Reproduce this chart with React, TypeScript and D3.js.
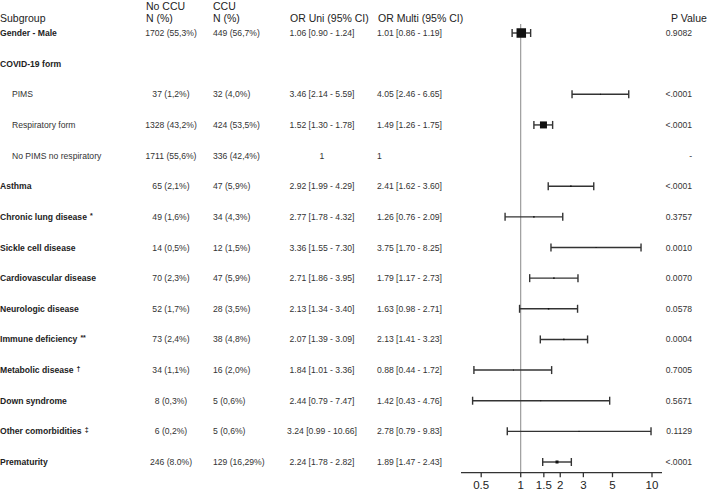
import React from "react";
import * as d3 from "d3";

const subgroups = [
  "Gender - Male", "COVID-19 form", "PIMS", "Respiratory form", "No PIMS no respiratory",
  "Asthma", "Chronic lung disease", "Sickle cell disease", "Cardiovascular disease",
  "Neurologic disease", "Immune deficiency", "Metabolic disease", "Down syndrome",
  "Other comorbidities", "Prematurity",
];
const superscripts = ["", "", "", "", "", "", "*", "", "", "", "**", "†", "", "‡", ""];
const isSubRow = [false, false, true, true, true, false, false, false, false, false, false, false, false, false, false];
const noCcu = ["1702 (55,3%)", "", "37 (1,2%)", "1328 (43,2%)", "1711 (55,6%)", "65 (2,1%)", "49 (1,6%)", "14 (0,5%)", "70 (2,3%)", "52 (1,7%)", "73 (2,4%)", "34 (1,1%)", "8 (0,3%)", "6 (0,2%)", "246 (8.0%)"];
const ccu = ["449 (56,7%)", "", "32 (4,0%)", "424 (53,5%)", "336 (42,4%)", "47 (5,9%)", "34 (4,3%)", "12 (1,5%)", "47 (5,9%)", "28 (3,5%)", "38 (4,8%)", "16 (2,0%)", "5 (0,6%)", "5 (0,6%)", "129 (16,29%)"];
const orUni = ["1.06 [0.90 - 1.24]", "", "3.46 [2.14 - 5.59]", "1.52 [1.30 - 1.78]", "1", "2.92 [1.99 - 4.29]", "2.77 [1.78 - 4.32]", "3.36 [1.55 - 7.30]", "2.71 [1.86 - 3.95]", "2.13 [1.34 - 3.40]", "2.07 [1.39 - 3.09]", "1.84 [1.01 - 3.36]", "2.44 [0.79 - 7.47]", "3.24 [0.99 - 10.66]", "2.24 [1.78 - 2.82]"];
const orMultiText = ["1.01 [0.86 - 1.19]", "", "4.05 [2.46 - 6.65]", "1.49 [1.26 - 1.75]", "1", "2.41 [1.62 - 3.60]", "1.26 [0.76 - 2.09]", "3.75 [1.70 - 8.25]", "1.79 [1.17 - 2.73]", "1.63 [0.98 - 2.71]", "2.13 [1.41 - 3.23]", "0.88 [0.44 - 1.72]", "1.42 [0.43 - 4.76]", "2.78 [0.79 - 9.83]", "1.89 [1.47 - 2.43]"];
const orEst: (number | null)[] = [1.01, null, 4.05, 1.49, null, 2.41, 1.26, 3.75, 1.79, 1.63, 2.13, 0.88, 1.42, 2.78, 1.89];
const ciLow: (number | null)[] = [0.86, null, 2.46, 1.26, null, 1.62, 0.76, 1.70, 1.17, 0.98, 1.41, 0.44, 0.43, 0.79, 1.47];
const ciHigh: (number | null)[] = [1.19, null, 6.65, 1.75, null, 3.60, 2.09, 8.25, 2.73, 2.71, 3.23, 1.72, 4.76, 9.83, 2.43];
const weights = [9.5, 0, 1, 7, 0, 1.5, 1.5, 1, 1.5, 1.5, 1.5, 1, 1, 1, 3];
const pValues = ["0.9082", "", "<.0001", "<.0001", "-", "<.0001", "0.3757", "0.0010", "0.0070", "0.0578", "0.0004", "0.7005", "0.5671", "0.1129", "<.0001"];
const tickValues = [0.5, 1, 1.5, 2, 3, 5, 10];

const W = 708, H = 493;
const FONT = "Liberation Sans, Arial, sans-serif";

export default function App() {
  const x = d3.scaleLog().domain([0.5, 10]).range([481.2, 652]);
  const y = d3.scaleLinear().domain([0, subgroups.length - 1]).range([33, 462]);
  const axisY = 472.7;
  const txt = "#333";
  const dataFs = 8.6;
  const hdrFs = 10.5;
  return (
    <svg width={W} height={H} style={{ position: "absolute", left: 0, top: 0, background: "#fff" }} fontFamily={FONT}>
      <g fill="#222" fontSize={hdrFs}>
        <text x={0} y={22}>Subgroup</text>
        <text x={146} y={10}>No CCU</text>
        <text x={146} y={22}>N (%)</text>
        <text x={213} y={10}>CCU</text>
        <text x={213} y={22}>N (%)</text>
        <text x={290} y={22}>OR Uni (95% CI)</text>
        <text x={378} y={22}>OR Multi (95% CI)</text>
        <text x={671} y={22}>P Value</text>
      </g>
      <line x1={x(1)} x2={x(1)} y1={24} y2={axisY} stroke="#888" strokeWidth={1} />
      {subgroups.map((s, i) => {
        const cy = y(i);
        const by = cy + 3;
        const e = orEst[i], lo = ciLow[i], hi = ciHigh[i];
        const w = weights[i];
        return (
          <g key={s}>
            <text x={isSubRow[i] ? 12 : 0} y={by} fontSize={dataFs} fontWeight={isSubRow[i] ? "normal" : "bold"} fill={isSubRow[i] ? txt : "#222"}>
              {s}
              {superscripts[i] ? <tspan dx={3} dy={-2} fontSize={7}>{superscripts[i]}</tspan> : null}
            </text>
            <text x={171} y={by} fontSize={dataFs} fill={txt} textAnchor="middle">{noCcu[i]}</text>
            <text x={213} y={by} fontSize={dataFs} fill={txt}>{ccu[i]}</text>
            <text x={322} y={by} fontSize={dataFs} fill={txt} textAnchor="middle">{orUni[i]}</text>
            <text x={377} y={by} fontSize={dataFs} fill={txt}>{orMultiText[i]}</text>
            <text x={692} y={by} fontSize={dataFs} fill={txt} textAnchor="end">{pValues[i]}</text>
            {e !== null && lo !== null && hi !== null ? (
              <g stroke="#333" strokeWidth={1.4}>
                <line x1={x(lo)} x2={x(hi)} y1={cy} y2={cy} />
                <line x1={x(lo)} x2={x(lo)} y1={cy - 4} y2={cy + 4} />
                <line x1={x(hi)} x2={x(hi)} y1={cy - 4} y2={cy + 4} />
                <rect x={x(e) - w / 2} y={cy - w / 2} width={w} height={w} fill="#111" stroke="none" />
              </g>
            ) : null}
          </g>
        );
      })}
      <line x1={461} x2={662} y1={axisY} y2={axisY} stroke="#333" strokeWidth={1.3} />
      {tickValues.map((t) => (
        <g key={t}>
          <line x1={x(t)} x2={x(t)} y1={axisY} y2={axisY + 4.5} stroke="#333" strokeWidth={1.3} />
          <text x={x(t)} y={axisY + 16} fontSize={11.5} fill="#222" textAnchor="middle">{String(t)}</text>
        </g>
      ))}
    </svg>
  );
}
